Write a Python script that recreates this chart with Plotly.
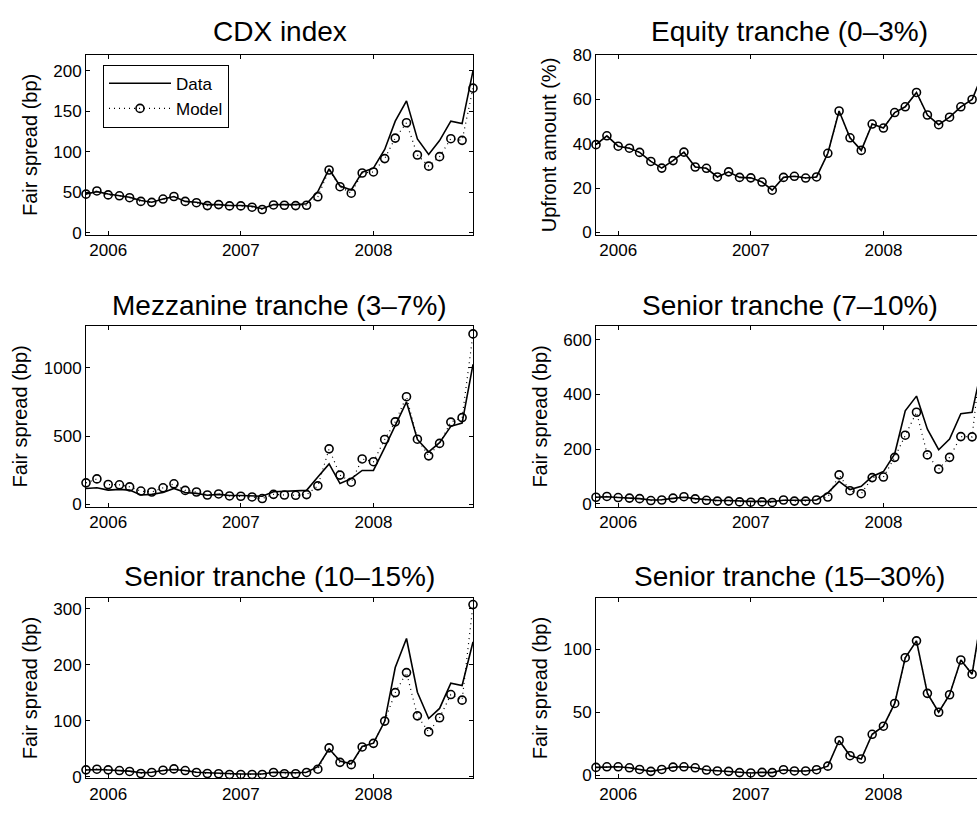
import pandas as pd
import plotly.graph_objects as go

# Monthly observation dates (first of month), Nov 2005 - Oct 2008
months = [
    "2005-11-01", "2005-12-01",
    "2006-01-01", "2006-02-01", "2006-03-01", "2006-04-01", "2006-05-01", "2006-06-01",
    "2006-07-01", "2006-08-01", "2006-09-01", "2006-10-01", "2006-11-01", "2006-12-01",
    "2007-01-01", "2007-02-01", "2007-03-01", "2007-04-01", "2007-05-01", "2007-06-01",
    "2007-07-01", "2007-08-01", "2007-09-01", "2007-10-01", "2007-11-01", "2007-12-01",
    "2008-01-01", "2008-02-01", "2008-03-01", "2008-04-01", "2008-05-01", "2008-06-01",
    "2008-07-01", "2008-08-01", "2008-09-01", "2008-10-01",
]

# CDX index fair spread (bp)
cdx_data = [48, 51, 48, 46, 44, 40, 38, 42, 45, 39, 38, 35, 35, 34, 34, 33, 30, 35,
            35, 35, 36, 51, 79, 58, 53, 75, 80, 103, 138, 163, 116, 97, 114, 138, 135, 200]
cdx_model = [47.9, 51.9, 47.0, 45.9, 43.5, 39.0, 37.8, 41.9, 45.0, 39.0, 37.4, 33.8,
             35.0, 33.4, 33.4, 31.8, 29.0, 34.6, 34.2, 33.8, 34.2, 44.7, 77.7, 57.1,
             49.1, 74.0, 75.3, 91.8, 117.1, 136.0, 96.2, 82.5, 94.2, 116.3, 114.3, 178.7]

# Equity tranche (0-3%) upfront amount (%)
eq_data = [39.6, 43.6, 38.9, 38.0, 36.1, 32.0, 29.0, 32.4, 36.2, 29.5, 28.9, 25.0,
           27.3, 24.8, 24.6, 22.7, 19.0, 24.8, 25.3, 24.5, 25.0, 35.7, 54.8, 42.7,
           37.0, 48.9, 47.1, 54.1, 56.7, 63.2, 53.0, 48.6, 52.0, 56.7, 60.0, 72.0]
eq_model = [39.6, 43.6, 38.9, 38.0, 36.1, 32.0, 29.0, 32.4, 36.2, 29.5, 28.9, 25.0,
            27.3, 24.8, 24.6, 22.7, 19.0, 24.8, 25.3, 24.5, 25.0, 35.7, 54.8, 42.7,
            37.0, 48.9, 47.1, 54.1, 56.7, 63.2, 53.0, 48.6, 52.0, 56.7, 60.0, 72.0]

# Mezzanine tranche (3-7%) fair spread (bp)
mez_data = [117, 122, 105, 110, 105, 69, 74, 88, 117, 88, 81, 67, 74, 65, 65, 62, 60, 93,
            98, 98, 103, 201, 297, 153, 189, 249, 249, 416, 584, 751, 476, 385, 452, 572, 596, 1026]
mez_model = [158, 187, 146, 144, 129, 98, 91, 122, 151, 103, 91, 69, 77, 62, 60, 55, 43, 74,
             69, 67, 72, 136, 407, 215, 163, 333, 313, 476, 605, 789, 478, 356, 447, 603, 636, 1249]

# Senior tranche (7-10%) fair spread (bp)
s710_data = [24, 26, 23, 21, 19, 14, 15, 20, 24, 19, 15, 12, 12, 10, 9, 9, 8, 13,
             12, 13, 14, 40, 82, 52, 64, 100, 118, 183, 340, 394, 273, 198, 237, 330, 335, 520]
s710_model = [24, 27, 23, 21, 19, 12, 14, 21, 26, 18, 13, 10, 10, 7, 6, 7, 5, 14,
              10, 10, 14, 25, 106, 48, 37, 96, 98, 170, 251, 335, 179, 127, 170, 246, 245, 600]

# Senior tranche (10-15%) fair spread (bp)
s1015_data = [12, 13, 12, 11, 10, 7, 8, 11, 13, 11, 8, 7, 6, 5, 5, 5, 5, 8,
              7, 7, 8, 18, 50, 28, 23, 54, 60, 99, 195, 247, 151, 104, 122, 167, 163, 241]
s1015_model = [12.3, 13.5, 12.3, 11.0, 9.4, 5.8, 7.6, 11.7, 14.0, 11.0, 7.6, 5.8,
               5.3, 4.1, 4.1, 4.1, 4.1, 7.6, 5.3, 5.3, 7.6, 13.5, 51.5, 25.7,
               21.6, 53.2, 59.6, 99.4, 150.3, 186.0, 108.8, 80.1, 105.3, 146.8, 136.8, 307.6]

# Senior tranche (15-30%) fair spread (bp)
s1530_data = [6.2, 6.7, 6.7, 5.9, 4.6, 3.1, 4.6, 6.4, 6.7, 5.9, 4.1, 3.4,
              3.1, 2.1, 1.8, 2.3, 2.1, 4.4, 3.4, 3.4, 4.4, 7.2, 27.6, 15.5,
              12.9, 32.5, 38.9, 57.0, 93.3, 106.7, 65.0, 50.0, 63.9, 91.5, 80.2, 134.0]
s1530_model = [6.2, 6.7, 6.7, 5.9, 4.6, 3.1, 4.6, 6.4, 6.7, 5.9, 4.1, 3.4,
               3.1, 2.1, 1.8, 2.3, 2.1, 4.4, 3.4, 3.4, 4.4, 7.2, 27.6, 15.5,
               12.9, 32.5, 38.9, 57.0, 93.3, 106.7, 65.0, 50.0, 63.9, 91.5, 80.2, 134.0]

titles = ["CDX index", "Equity tranche (0\u20133%)", "Mezzanine tranche (3\u20137%)",
          "Senior tranche (7\u201310%)", "Senior tranche (10\u201315%)", "Senior tranche (15\u201330%)"]
ylabels = ["Fair spread (bp)", "Upfront amount (%)", "Fair spread (bp)",
           "Fair spread (bp)", "Fair spread (bp)", "Fair spread (bp)"]
year_ticks = ["2006-01-01", "2007-01-01", "2008-01-01"]
year_labels = ["2006", "2007", "2008"]

panels = [
    (cdx_data, cdx_model, [-2, 219.3], 50),
    (eq_data, eq_model, [-1.06, 80], 20),
    (mez_data, mez_model, [-17, 1306], 500),
    (s710_data, s710_model, [-10.7, 650], 200),
    (s1015_data, s1015_model, [-2.5, 319.3], 100),
    (s1530_data, s1530_model, [-2.3, 140.7], 50),
]

W, H = 977, 815
FONT = "Liberation Sans, Arial, Helvetica, sans-serif"

# axes geometry in pixels
col_x = [(86, 473), (596, 983)]
row_y = [(47.3, 230.7), (324.3, 509.0), (602.3, 786.5)]
title_y = [22.6, 303.0, 580.6]

t0 = pd.Timestamp(months[0])
t1 = pd.Timestamp(months[-1])

fig = go.Figure()
annotations = []

for k, (dat, mod, yr, dt) in enumerate(panels):
    row, col = divmod(k, 2)
    n = k + 1
    xa = "x" if n == 1 else f"x{n}"
    ya = "y" if n == 1 else f"y{n}"
    x0p, x1p = col_x[col]
    y0p, y1p = row_y[row]

    # the right-hand column runs past the page edge; show only the visible part
    vis_right = min(x1p, W)
    frac = (vis_right - x0p) / (x1p - x0p)
    x_end = t0 + (t1 - t0) * frac

    fig.add_trace(go.Scatter(
        x=months, y=dat, xaxis=xa, yaxis=ya, name="Data",
        mode="lines", line=dict(color="black", width=1.6),
        showlegend=(k == 0), cliponaxis=False,
    ))
    fig.add_trace(go.Scatter(
        x=months, y=mod, xaxis=xa, yaxis=ya, name="Model",
        mode="lines+markers",
        line=dict(color="black", width=1.2, dash="1px,4px"),
        marker=dict(symbol="circle-open", size=8, color="black", line=dict(width=1.6)),
        showlegend=(k == 0), cliponaxis=False,
    ))

    axis_common = dict(
        ticks="inside", ticklen=4, tickwidth=1, tickcolor="black",
        showline=True, linecolor="black", linewidth=1,
        showgrid=False, zeroline=False,
        tickfont=dict(family=FONT, size=17, color="black"),
    )
    fig.layout[("xaxis" if n == 1 else f"xaxis{n}")] = dict(
        type="date", domain=[x0p / W, vis_right / W], anchor=ya,
        range=[t0, x_end], tickvals=year_ticks, ticktext=year_labels,
        mirror="allticks", **axis_common,
    )
    fig.layout[("yaxis" if n == 1 else f"yaxis{n}")] = dict(
        domain=[1 - y1p / H, 1 - y0p / H], anchor=xa,
        range=yr, tick0=0, dtick=dt,
        mirror="allticks" if col == 0 else False,
        title=dict(text=ylabels[k], font=dict(family=FONT, size=20, color="black"), standoff=10),
        **axis_common,
    )

    annotations.append(dict(
        text=titles[k], xref="paper", yref="paper",
        x=((x0p + x1p) / 2) / W, y=1 - title_y[row] / H,
        xanchor="center", yanchor="middle", showarrow=False,
        font=dict(family=FONT, size=28, color="black"),
    ))

fig.update_layout(
    width=W, height=H, autosize=False,
    margin=dict(l=0, r=0, t=0, b=0),
    paper_bgcolor="white", plot_bgcolor="white",
    font=dict(family=FONT, color="black"),
    annotations=annotations,
    legend=dict(
        x=103 / W, y=1 - 57 / H, xanchor="left", yanchor="top",
        bgcolor="white", bordercolor="black", borderwidth=1,
        font=dict(family=FONT, size=17, color="black"),
        itemwidth=62, tracegroupgap=0,
    ),
)

fig.write_html("out.html")
